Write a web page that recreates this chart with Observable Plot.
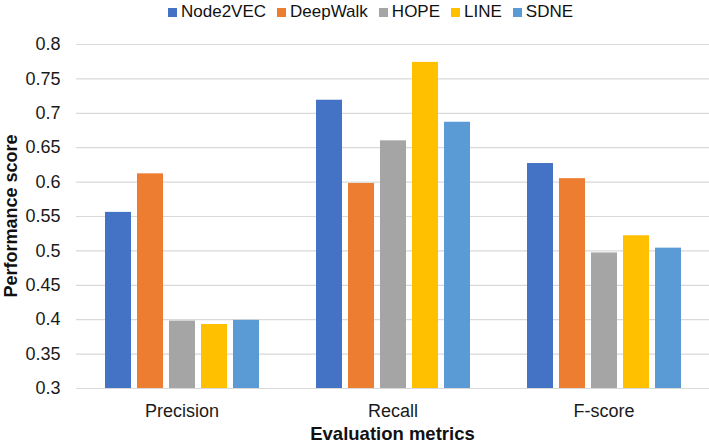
<!DOCTYPE html>
<html>
<head>
<meta charset="utf-8">
<script src="https://cdn.jsdelivr.net/npm/d3@7"></script>
<script src="https://cdn.jsdelivr.net/npm/@observablehq/plot@0.6"></script>
<style>
  html, body { margin: 0; padding: 0; background: #fff; }
  body { width: 709px; height: 445px; overflow: hidden; font-family: "Liberation Sans", Arial, sans-serif; }
  #legend { height: 27px; padding-top: 3px; padding-left: 168px; display: flex; align-items: flex-start; font-size: 17px; line-height: 18px; color: #111; }
  .item { display: flex; align-items: center; margin-right: 11px; }
  .sw { width: 9px; height: 9px; margin-right: 4px; }
  svg { display: block; }
</style>
</head>
<body>
<div id="legend"></div>
<div id="chart"></div>
<script>
const metrics = ["Precision", "Recall", "F-score"];
const methods = ["Node2VEC", "DeepWalk", "HOPE", "LINE", "SDNE"];
const colors = ["#4472C4", "#ED7D31", "#A5A5A5", "#FFC000", "#5B9BD5"];
const precision = [0.556, 0.612, 0.398, 0.393, 0.399];
const recall = [0.719, 0.598, 0.660, 0.774, 0.687];
const fscore = [0.627, 0.605, 0.497, 0.522, 0.504];
const yTicks = [0.3, 0.35, 0.4, 0.45, 0.5, 0.55, 0.6, 0.65, 0.7, 0.75, 0.8];
const yTickLabels = ["0.3", "0.35", "0.4", "0.45", "0.5", "0.55", "0.6", "0.65", "0.7", "0.75", "0.8"];
const xTitle = "Evaluation metrics";
const yTitle = "Performance score";

const series = [precision, recall, fscore];
const data = [];
metrics.forEach((m, i) => methods.forEach((k, j) => data.push({metric: m, method: k, value: series[i][j]})));

// legend
const legend = d3.select("#legend");
methods.forEach((k, j) => {
  const it = legend.append("div").attr("class", "item");
  it.append("div").attr("class", "sw").style("background", colors[j]);
  it.append("span").text(k);
});

const W = 709, H = 415, ML = 76, MR = 0, MT = 14, MB = 57;
const plot = Plot.plot({
  width: W,
  height: H,
  marginLeft: ML,
  marginRight: MR,
  marginTop: MT,
  marginBottom: MB,
  style: {fontFamily: "'Liberation Sans', Arial, sans-serif", fontSize: "18px", color: "#1a1a1a", background: "#fff"},
  fx: {domain: metrics, padding: 0, label: null, tickSize: 0, tickPadding: 16, axis: "bottom"},
  x: {domain: methods, paddingInner: 0.2, paddingOuter: 0.835, axis: null},
  y: {domain: [yTicks[0], yTicks[yTicks.length - 1]], axis: null},
  color: {domain: methods, range: colors},
  marks: [
    Plot.ruleY(yTicks, {stroke: "#d9d9d9", strokeWidth: 1.2}),
    Plot.barY(data, {fx: "metric", x: "method", y1: () => yTicks[0], y2: "value", fill: "method"}),
    Plot.axisY(yTicks, {tickSize: 0, tickPadding: 16, tickFormat: (d, i) => yTickLabels[yTicks.indexOf(d)], label: null, fontSize: 18})
  ]
});
document.getElementById("chart").appendChild(plot);

const svg = d3.select(plot.tagName === "svg" ? plot : plot.querySelector("svg"));
svg.append("text")
  .attr("x", (ML + (W - MR)) / 2)
  .attr("y", 410)
  .attr("text-anchor", "middle")
  .attr("font-weight", "bold")
  .attr("font-size", 18.5)
  .attr("fill", "#111")
  .text(xTitle);
svg.append("text")
  .attr("transform", `translate(17,${MT + (H - MT - MB) / 2}) rotate(-90)`)
  .attr("text-anchor", "middle")
  .attr("font-weight", "bold")
  .attr("font-size", 18)
  .attr("fill", "#111")
  .text(yTitle);
</script>
</body>
</html>
